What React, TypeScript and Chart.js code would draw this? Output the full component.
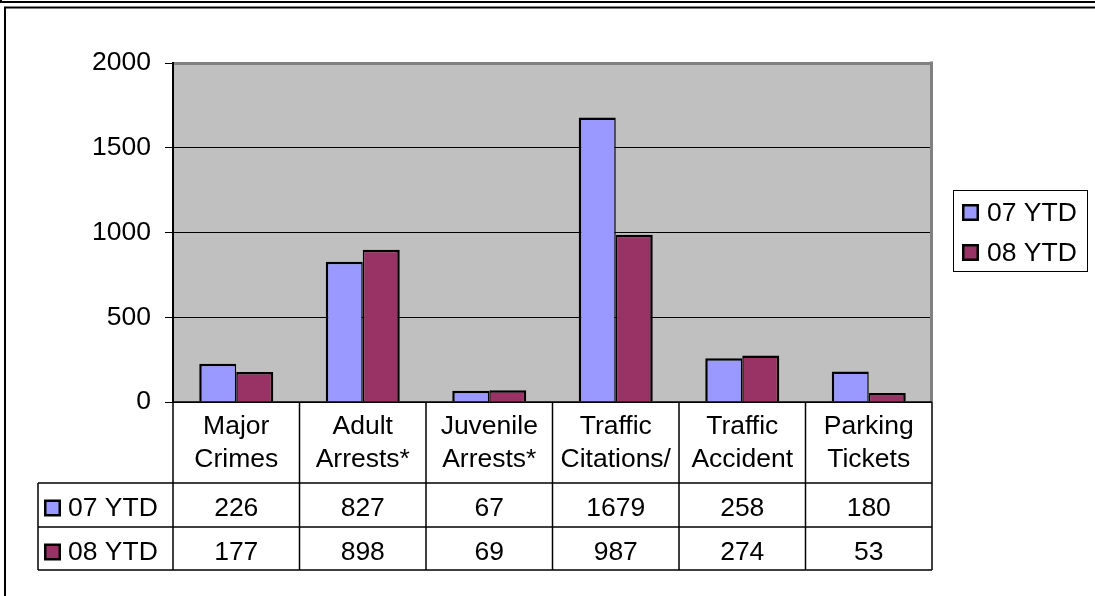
import React, { useEffect, useRef } from 'react';
import { Chart, registerables } from 'chart.js';

Chart.register(...registerables);

const categories: string[][] = [
  ['Major', 'Crimes'],
  ['Adult', 'Arrests*'],
  ['Juvenile', 'Arrests*'],
  ['Traffic', 'Citations/'],
  ['Traffic', 'Accident'],
  ['Parking', 'Tickets'],
];
const series07: number[] = [226, 827, 67, 1679, 258, 180];
const series08: number[] = [177, 898, 69, 987, 274, 53];
const seriesNames: string[] = ['07 YTD', '08 YTD'];
const seriesColors: string[] = ['#9999FF', '#993366'];
const yMin = 0;
const yMax = 2000;
const yStep = 500;

const FONT = "'Liberation Sans', Arial, sans-serif";
const FS = 26.5;

const excelPlugin = {
  id: 'excelExtras',
  beforeDraw(chart: any) {
    const { ctx, chartArea: a } = chart;
    ctx.save();
    ctx.fillStyle = '#FFFFFF';
    ctx.fillRect(0, 0, chart.width, chart.height);
    ctx.fillStyle = '#C0C0C0';
    ctx.fillRect(a.left, a.top, a.right - a.left, a.bottom - a.top);
    ctx.restore();
  },
  afterDraw(chart: any) {
    const { ctx, chartArea: a } = chart;
    const labels = chart.data.labels as string[][];
    const n = labels.length;
    const cw = (a.right - a.left) / n;
    const xs = chart.scales.x;
    const datasets = chart.data.datasets;

    ctx.save();
    // plot area right border (gray)
    ctx.strokeStyle = '#808080';
    ctx.lineWidth = 3;
    ctx.beginPath();
    ctx.moveTo(a.right - 0.5, a.top - 1.5);
    ctx.lineTo(a.right - 0.5, a.bottom);
    ctx.stroke();

    // data table
    const headTop = a.bottom;
    const row1 = 483;
    const row2 = 527;
    const row3 = 570;
    const tableLeft = 38;
    ctx.strokeStyle = '#000';
    ctx.lineWidth = 1.5;
    ctx.beginPath();
    ctx.moveTo(a.left, headTop);
    ctx.lineTo(a.right, headTop);
    [row1, row2, row3].forEach((y) => {
      ctx.moveTo(tableLeft, y);
      ctx.lineTo(a.right, y);
    });
    ctx.moveTo(tableLeft, row1);
    ctx.lineTo(tableLeft, row3);
    for (let i = 0; i <= n; i++) {
      const bx = a.left + i * cw;
      ctx.moveTo(bx, headTop);
      ctx.lineTo(bx, row3);
    }
    ctx.stroke();

    ctx.fillStyle = '#000';
    ctx.font = `${FS}px ${FONT}`;
    ctx.textAlign = 'center';
    ctx.textBaseline = 'alphabetic';
    labels.forEach((lines, i) => {
      const cx = xs.getPixelForValue(i);
      lines.forEach((ln, j) => {
        ctx.fillText(ln, cx, 433.5 + j * 33);
      });
    });
    const baselines = [515.5, 559.5];
    datasets.forEach((ds: any, k: number) => {
      ds.data.forEach((v: number, i: number) => {
        ctx.fillText(String(v), xs.getPixelForValue(i), baselines[k]);
      });
    });

    const drawMarker = (x: number, y: number, color: string) => {
      ctx.fillStyle = '#000';
      ctx.fillRect(x, y, 17, 17);
      ctx.fillStyle = color;
      ctx.fillRect(x + 2.5, y + 2.5, 12, 12);
    };

    // row headers
    ctx.textAlign = 'left';
    datasets.forEach((ds: any, k: number) => {
      drawMarker(44, baselines[k] - 16, ds.backgroundColor);
      ctx.fillStyle = '#000';
      ctx.fillText(ds.label, 68, baselines[k]);
    });

    // legend
    ctx.strokeStyle = '#000';
    ctx.lineWidth = 1;
    ctx.strokeRect(953.5, 190.5, 134, 81);
    const lgBase = [221, 261];
    datasets.forEach((ds: any, k: number) => {
      drawMarker(962, lgBase[k] - 17, ds.backgroundColor);
      ctx.fillStyle = '#000';
      ctx.fillText(ds.label, 987, lgBase[k]);
    });

    // outer frame
    ctx.strokeStyle = '#000';
    ctx.lineWidth = 2;
    ctx.beginPath();
    ctx.moveTo(0, 2);
    ctx.lineTo(chart.width, 2);
    ctx.moveTo(1, 0);
    ctx.lineTo(1, 3);
    ctx.moveTo(4, 7.5);
    ctx.lineTo(chart.width, 7.5);
    ctx.moveTo(5, 6.5);
    ctx.lineTo(5, chart.height);
    ctx.stroke();
    ctx.restore();
  },
};

export default function App() {
  const ref = useRef<HTMLCanvasElement | null>(null);
  useEffect(() => {
    if (!ref.current) return;
    const chart = new Chart(ref.current, {
      type: 'bar',
      data: {
        labels: categories,
        datasets: [
          {
            label: seriesNames[0],
            data: series07,
            backgroundColor: seriesColors[0],
            borderColor: '#000',
            borderWidth: { top: 2.5, left: 2.5, right: 1.5, bottom: 0 },
            borderSkipped: false,
            barPercentage: 1,
            categoryPercentage: 0.585,
          },
          {
            label: seriesNames[1],
            data: series08,
            backgroundColor: seriesColors[1],
            borderColor: '#000',
            borderWidth: { top: 2.5, left: 1.5, right: 2.5, bottom: 0 },
            borderSkipped: false,
            barPercentage: 1,
            categoryPercentage: 0.585,
          },
        ],
      },
      options: {
        responsive: false,
        animation: false,
        layout: { padding: { top: 63, right: 163, bottom: 0, left: 0 } },
        plugins: {
          legend: { display: false },
          tooltip: { enabled: false },
          title: { display: false },
        },
        scales: {
          x: {
            position: 'bottom',
            ticks: { display: false },
            grid: { display: false },
            border: { display: false },
            afterFit: (s: any) => {
              s.height = 194;
            },
          },
          y: {
            min: yMin,
            max: yMax,
            ticks: {
              stepSize: yStep,
              color: '#000',
              padding: 14,
              font: { family: FONT, size: FS },
              callback: (v: any) => String(v),
            },
            grid: {
              color: (c: any) => (c.tick && c.tick.value === yMax ? '#808080' : '#000'),
              lineWidth: (c: any) => (c.tick && c.tick.value === yMax ? 3 : 1),
              tickColor: '#000',
              tickWidth: 1,
              tickLength: 8,
            },
            border: { display: true, color: '#000', width: 2 },
            afterFit: (s: any) => {
              s.width = 173;
            },
          },
        },
      },
      plugins: [excelPlugin],
    });
    return () => chart.destroy();
  }, []);
  return (
    <div style={{ position: 'absolute', left: 0, top: 0, width: 1095, height: 596 }}>
      <canvas ref={ref} width={1095} height={596} style={{ display: 'block' }} />
    </div>
  );
}
